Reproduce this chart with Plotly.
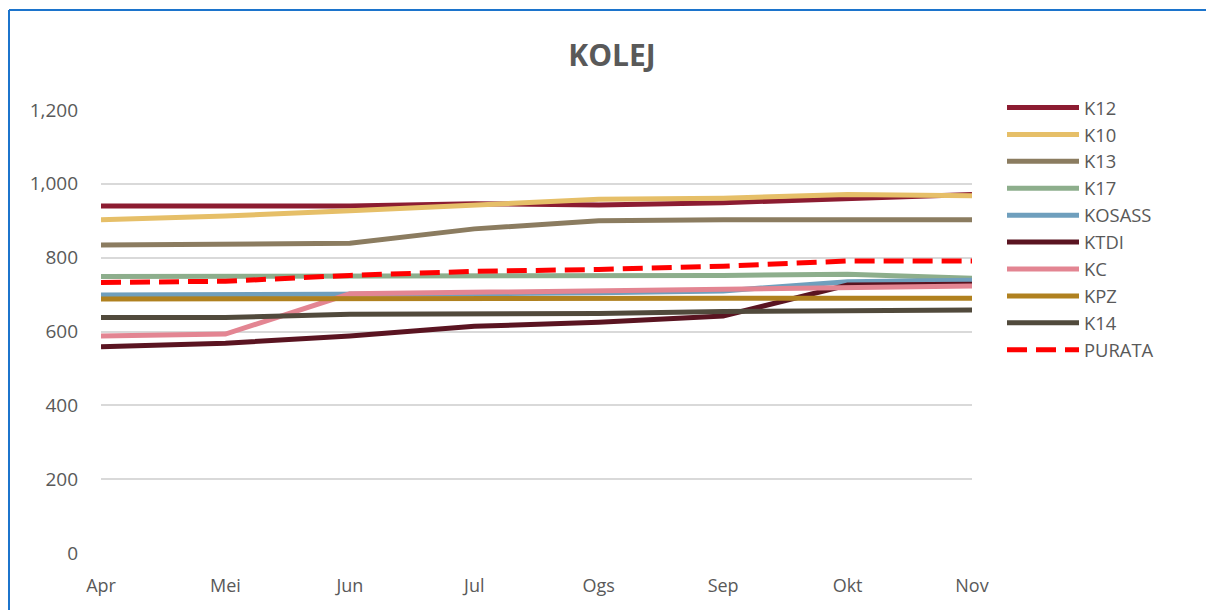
import plotly.graph_objects as go

months = ["Apr", "Mei", "Jun", "Jul", "Ogs", "Sep", "Okt", "Nov"]

K12 = [940, 940, 940, 946, 943, 949, 960, 971]
K10 = [903, 913, 927, 944, 958, 961, 971, 968]
K13 = [834, 837, 839, 878, 900, 903, 903, 903]
K17 = [749, 749, 749, 750, 752, 752, 755, 744]
KOSASS = [699, 699, 700, 702, 705, 710, 735, 739]
KTDI = [559, 568, 588, 614, 625, 642, 726, 728]
KC = [588, 593, 702, 706, 710, 715, 721, 723]
KPZ = [688, 689, 690, 690, 690, 690, 690, 690]
K14 = [638, 638, 647, 647, 649, 654, 656, 658]
PURATA = [733, 736, 752, 763, 768, 777, 791, 791]

series_names = ["K12", "K10", "K13", "K17", "KOSASS", "KTDI", "KC", "KPZ", "K14", "PURATA"]
series_values = [K12, K10, K13, K17, KOSASS, KTDI, KC, KPZ, K14, PURATA]
colors = ["#8C1C31", "#E6BF68", "#8B7C60", "#8DAE8C", "#6F9FBD", "#5A1421",
          "#E38592", "#B0811F", "#514A3C", "#FF0000"]

fig = go.Figure()
for name, vals, col in zip(series_names, series_values, colors):
    dash = "20px,9px" if name == "PURATA" else "solid"
    fig.add_trace(go.Scatter(
        x=list(range(len(months))), y=vals, name=name, mode="lines",
        line=dict(color=col, width=5, dash=dash),
    ))

TXT = "#595959"
L, R, T, B = 93, 250, 102, 65
W = 1214 - L - R
H = 610 - T - B

fig.update_layout(
    width=1214, height=610,
    margin=dict(l=L, r=R, t=T, b=B),
    paper_bgcolor="white", plot_bgcolor="white",
    font=dict(family="Open Sans", color=TXT, size=18),
    title=dict(text="<b>KOLEJ</b>", x=0.4975, xanchor="center", y=0.922, yanchor="middle",
               font=dict(size=30, color=TXT, family="Open Sans")),
    xaxis=dict(
        tickmode="array", tickvals=list(range(len(months))), ticktext=months,
        range=[0, 7], showgrid=False, zeroline=False, showline=False,
        ticklabelstandoff=20, tickfont=dict(size=18, color=TXT),
    ),
    yaxis=dict(
        range=[0, 1200], tickvals=[0, 200, 400, 600, 800, 1000, 1200],
        tickformat=",d", gridcolor="#D9D9D9", gridwidth=1.5, zeroline=False,
        showline=False, ticklabelstandoff=22, tickfont=dict(size=19, color=TXT),
    ),
    legend=dict(
        x=(994 - L) / W, xanchor="left", y=(545 - 81) / H, yanchor="top",
        font=dict(size=18.4, color=TXT), itemwidth=72,
        bgcolor="rgba(0,0,0,0)", tracegroupgap=0,
    ),
    showlegend=True,
)

# blue chart border (extends beyond the right and bottom of the view)
def px_x(p):
    return (p - L) / W
def px_y(p):
    return (610 - B - p) / H

fig.add_shape(type="line", xref="paper", yref="paper",
              x0=px_x(1), x1=px_x(1300), y0=px_y(2), y1=px_y(2),
              line=dict(color="#1C74CC", width=2))
fig.add_shape(type="line", xref="paper", yref="paper",
              x0=px_x(1), x1=px_x(1), y0=px_y(2), y1=px_y(700),
              line=dict(color="#1C74CC", width=2))

fig.write_html("out.html")
